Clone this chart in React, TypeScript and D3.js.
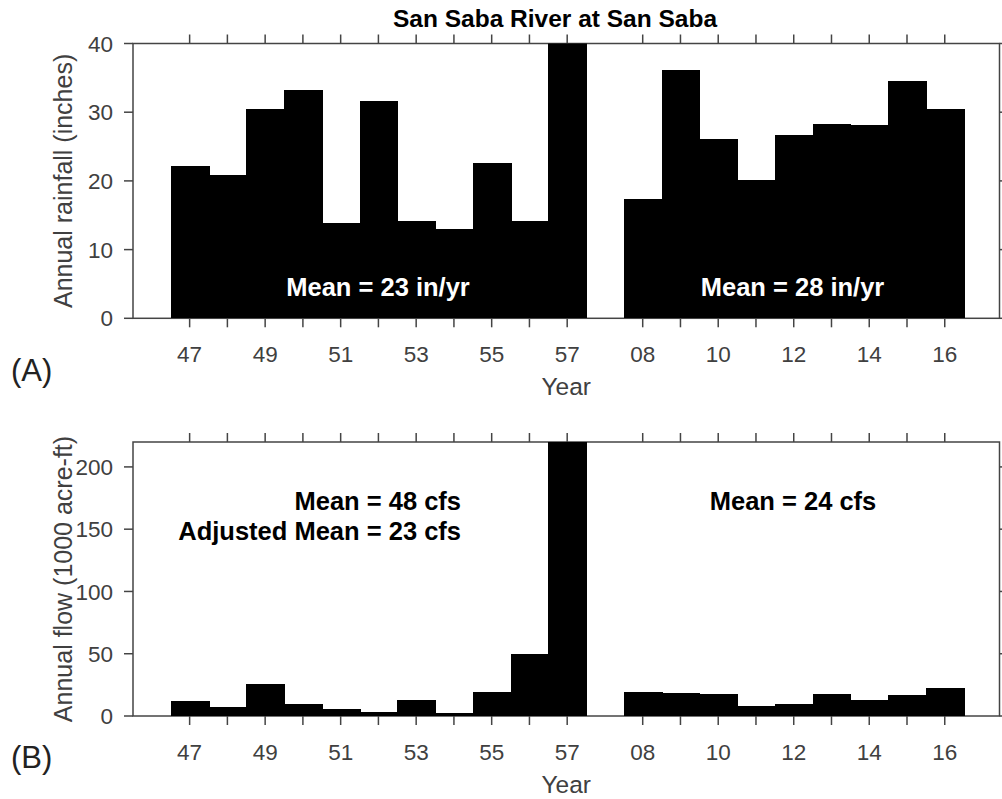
import React from "react";
import * as d3 from "d3";

const years = [1947, 1948, 1949, 1950, 1951, 1952, 1953, 1954, 1955, 1956, 1957, 2008, 2009, 2010, 2011, 2012, 2013, 2014, 2015, 2016];
const rainfall = [22.1, 20.8, 30.5, 33.2, 13.8, 31.7, 14.2, 13.0, 22.6, 14.2, 45, 17.3, 36.2, 26.1, 20.1, 26.7, 28.3, 28.2, 34.6, 30.5];
const flow = [12.3, 7.5, 25.4, 9.6, 5.3, 3.2, 12.8, 2.4, 19.3, 49.5, 235, 19.5, 18.2, 17.4, 8.3, 9.6, 17.4, 12.8, 16.6, 22.7];
const labeledYears = [1947, 1949, 1951, 1953, 1955, 1957, 2008, 2010, 2012, 2014, 2016];
const rainTicks = [0, 10, 20, 30, 40];
const flowTicks = [0, 50, 100, 150, 200];

const FONT = "'Liberation Sans', Arial, Helvetica, sans-serif";
const AXIS = "#444";
const TXT = "#404040";

// slot position: a blank slot separates the two periods
const slot = (i: number) => (i < 11 ? i : i + 1);
const yrLabel = (y: number) => String(y % 100).padStart(2, "0");

const x = d3.scaleLinear().domain([-1.5, 21.45]).range([133, 999.5]);
const L = 133, R = 999.5;

type PanelProps = {
  id: string;
  values: number[];
  y: d3.ScaleLinear<number, number>;
  ticks: number[];
  top: number;
  bottom: number;
  ylabel: string;
  panelLabel: string;
  panelLabelY: number;
  children?: React.ReactNode;
};

function Panel({ id, values, y, ticks, top, bottom, ylabel, panelLabel, panelLabelY, children }: PanelProps) {
  const tl = 9;
  return (
    <g>
      <defs>
        <clipPath id={id}>
          <rect x={L} y={top} width={R - L} height={bottom - top} />
        </clipPath>
      </defs>
      <rect x={L} y={top} width={R - L} height={bottom - top} fill="none" stroke={AXIS} strokeWidth={1.5} />
      {years.map((yr, i) => {
        const px = x(slot(i));
        return (
          <g key={yr}>
            <line x1={px} x2={px} y1={bottom} y2={bottom + tl} stroke={AXIS} strokeWidth={1.5} />
            <line x1={px} x2={px} y1={top} y2={top - tl} stroke={AXIS} strokeWidth={1.5} />
          </g>
        );
      })}
      {ticks.map((t) => (
        <g key={t}>
          <line x1={L} x2={L - tl} y1={y(t)} y2={y(t)} stroke={AXIS} strokeWidth={1.5} />
          <line x1={R} x2={R + tl} y1={y(t)} y2={y(t)} stroke={AXIS} strokeWidth={1.5} />
          <text x={113} y={y(t)} dy="0.36em" textAnchor="end" fontSize={22.5} fill={TXT} fontFamily={FONT}>
            {t}
          </text>
        </g>
      ))}
      <g clipPath={`url(#${id})`}>
        {values.map((v, i) => {
          const s = slot(i);
          const x0 = Math.round(x(s - 0.5));
          const x1 = Math.round(x(s + 0.5));
          return (
            <rect key={i} x={x0} width={x1 - x0 + 0.6} y={y(v)} height={y(0) - y(v)} fill="#000" shapeRendering="crispEdges" />
          );
        })}
      </g>
      {labeledYears.map((yr) => {
        const i = years.indexOf(yr);
        return (
          <text key={yr} x={x(slot(i))} y={bottom + 44} textAnchor="middle" fontSize={22.5} fill={TXT} fontFamily={FONT}>
            {yrLabel(yr)}
          </text>
        );
      })}
      <text x={(L + R) / 2} y={bottom + 77} textAnchor="middle" fontSize={24.5} fill={TXT} fontFamily={FONT}>
        Year
      </text>
      <text
        transform={`translate(72,${(top + bottom) / 2}) rotate(-90)`}
        textAnchor="middle"
        fontSize={25}
        fill={TXT}
        fontFamily={FONT}
      >
        {ylabel}
      </text>
      <text x={11} y={panelLabelY} fontSize={31} fill="#222" fontFamily={FONT}>
        {panelLabel}
      </text>
      {children}
    </g>
  );
}

export default function App() {
  const yTop = d3.scaleLinear().domain([0, 40]).range([318.3, 43.5]);
  const yBot = d3.scaleLinear().domain([0, 220]).range([716, 442]);
  const bold = { fontFamily: FONT, fontWeight: 700, fontSize: 25.5 } as const;
  return (
    <svg width={1002} height={799} style={{ position: "absolute", left: 0, top: 0, background: "#fff" }}>
      <rect width={1002} height={799} fill="#fff" />
      <text x={555} y={27} textAnchor="middle" fontSize={24.5} fontWeight={700} fill="#000" fontFamily={FONT}>
        San Saba River at San Saba
      </text>
      <Panel id="clipA" values={rainfall} y={yTop} ticks={rainTicks} top={43.5} bottom={318.3} ylabel="Annual rainfall (inches)" panelLabel="(A)" panelLabelY={381}>
        <text x={378} y={296} textAnchor="middle" fill="#fff" {...bold}>Mean = 23 in/yr</text>
        <text x={792.5} y={296} textAnchor="middle" fill="#fff" {...bold}>Mean = 28 in/yr</text>
      </Panel>
      <Panel id="clipB" values={flow} y={yBot} ticks={flowTicks} top={442} bottom={716} ylabel="Annual flow (1000 acre-ft)" panelLabel="(B)" panelLabelY={768}>
        <text x={461} y={509.5} textAnchor="end" fill="#000" {...bold}>Mean = 48 cfs</text>
        <text x={461} y={539.5} textAnchor="end" fill="#000" {...bold}>Adjusted Mean = 23 cfs</text>
        <text x={793} y={509.5} textAnchor="middle" fill="#000" {...bold}>Mean = 24 cfs</text>
      </Panel>
    </svg>
  );
}
